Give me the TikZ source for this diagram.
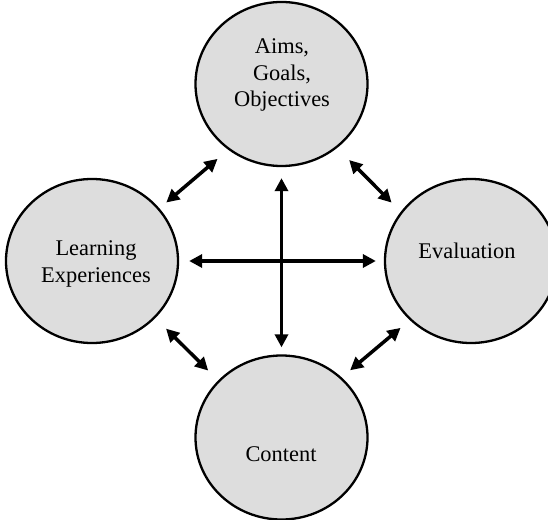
\documentclass[tikz,border=0pt]{standalone}
\usepackage{fontspec}
\setmainfont{Liberation Serif}
\usetikzlibrary{shapes.geometric,arrows.meta}
\definecolor{stagegray}{RGB}{221,221,221}

\begin{document}
\begin{tikzpicture}[x=1bp, y=-1bp,
  stage/.style={ellipse, draw, line width=2.3bp, fill=stagegray, minimum width=172bp, minimum height=164bp, inner sep=0pt},
  words/.style={align=center, font=\fontsize{22.5}{26.5}\selectfont},
  link/.style={<->, >={Triangle[length=13bp,width=13bp]}, line width=3.5bp}]
\clip (0,0) rectangle (548,520);

\foreach \n/\x/\y in {aims/281.5/84, learn/92/261, eval/471/261, content/281.5/437.5}
    \node[stage] (\n) at (\x,\y) {};

\node[words] (aimstext) at (282,75) {Aims,\\Goals,\\Objectives};
\node[words] (learntext) at (96,264) {Learning\\Experiences};
\node[words] (evaltext) at (467,250.5) {Evaluation};
\node[words] (contenttext) at (281,454.5) {Content};

\draw[link, shorten <=11bp, shorten >=7bp] (aims.south) -- (content.north);
\draw[link, shorten <=10bp, shorten >=8bp] (learn.east) -- (eval.west);
\draw[link, shorten <=14bp, shorten >=9bp] (aims.231) -- (learn.38);
\draw[link, shorten <=17bp, shorten >=13bp] (aims.311) -- (eval.145);
\draw[link, shorten <=15bp, shorten >=14bp] (learn.318) -- (content.138);
\draw[link, shorten <=12bp, shorten >=11bp] (eval.224) -- (content.45);

\end{tikzpicture}
\end{document}
